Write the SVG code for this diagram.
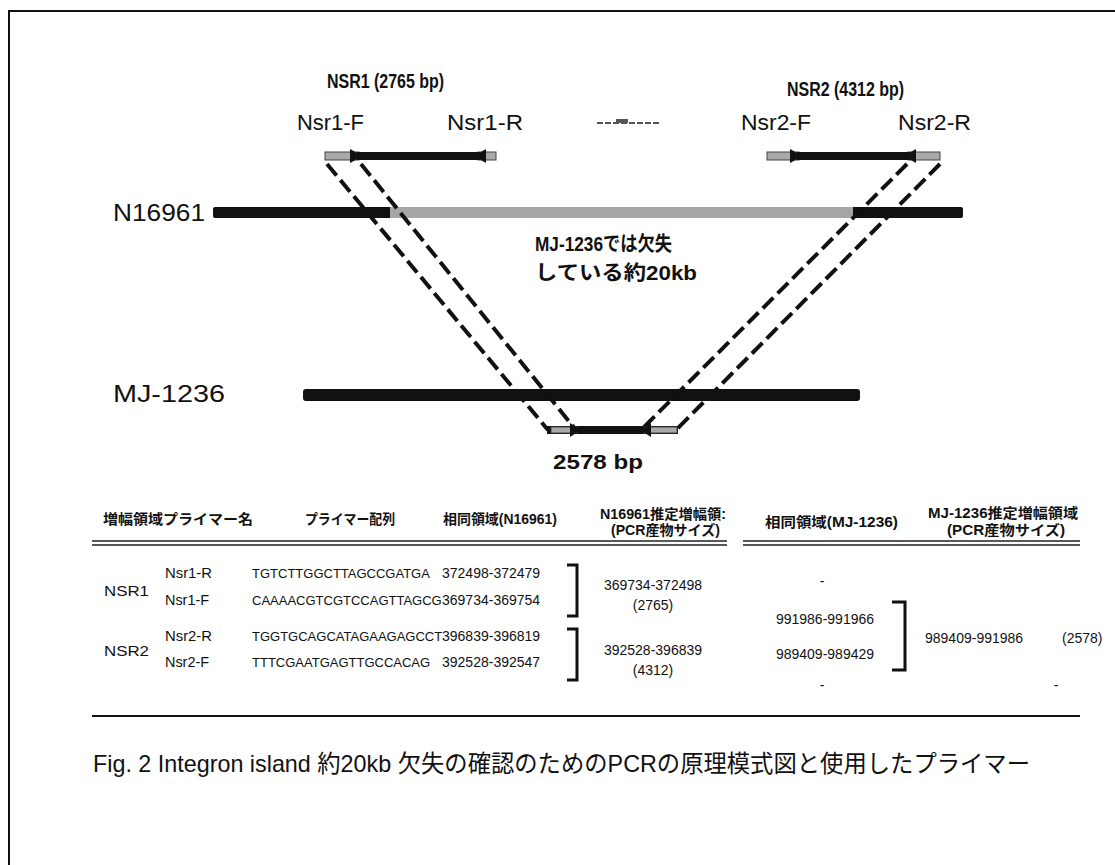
<svg xmlns="http://www.w3.org/2000/svg" width="1115" height="865" viewBox="0 0 1115 865">
<defs>
<style>
.t{font-family:"Liberation Sans","Noto Sans CJK JP",sans-serif;fill:#111}
.b{font-weight:bold}
.cell{font-size:14px}
.seq{font-size:13px}
.hd{font-size:14px;font-weight:bold}
.dash{fill:none;stroke:#111;stroke-width:4;stroke-dasharray:15 6}
.gray{fill:#a9a9a9;stroke:#444;stroke-width:1}
.blk{fill:#111}
.brk{fill:none;stroke:#111;stroke-width:3}
</style>
</defs>
<rect x="0" y="0" width="1115" height="865" fill="#fff"/>
<g id="frame"><path d="M9,865 V11 H1115" fill="none" stroke="#111" stroke-width="2"/></g>

<g id="titles">
<text class="t b" x="327" y="88" font-size="20" textLength="117" lengthAdjust="spacingAndGlyphs">NSR1 (2765 bp)</text>
<text class="t b" x="787" y="96" font-size="20" textLength="117" lengthAdjust="spacingAndGlyphs">NSR2 (4312 bp)</text>
<text class="t" x="297" y="130" font-size="22" textLength="67" lengthAdjust="spacingAndGlyphs">Nsr1-F</text>
<text class="t" x="447" y="130" font-size="22" textLength="76" lengthAdjust="spacingAndGlyphs">Nsr1-R</text>
<text class="t" x="741" y="130" font-size="22" textLength="70" lengthAdjust="spacingAndGlyphs">Nsr2-F</text>
<text class="t" x="898" y="130" font-size="22" textLength="73" lengthAdjust="spacingAndGlyphs">Nsr2-R</text>
</g>
<g id="smudge"><path d="M597,123 H660" stroke="#555" stroke-width="2" stroke-dasharray="6 2"/><rect x="616" y="119" width="12" height="4" fill="#555"/></g>

<g id="primer-nsr1">
<rect class="gray" x="325" y="152" width="34" height="8"/>
<rect class="gray" x="478" y="152" width="18" height="8"/>
<rect class="blk" x="357" y="152" width="123" height="8"/>
<polygon class="blk" points="350,149 363,156 350,163"/>
<polygon class="blk" points="486,149 474,156 486,163"/>
</g>
<g id="primer-nsr2">
<rect class="gray" x="767" y="152" width="32" height="8"/>
<rect class="gray" x="908" y="152" width="32" height="8"/>
<rect class="blk" x="797" y="152" width="113" height="8"/>
<polygon class="blk" points="790,149 803,156 790,163"/>
<polygon class="blk" points="916,149 904,156 916,163"/>
</g>

<g id="n16961">
<text class="t" x="113" y="221" font-size="24" textLength="92" lengthAdjust="spacingAndGlyphs">N16961</text>
<rect x="213" y="207" width="750" height="11" rx="2" fill="#111"/>
<rect x="390" y="207" width="463" height="11" fill="#a6a6a6"/>
</g>

<g id="deletion-label">
<text class="t b" x="535" y="251" font-size="20" textLength="137" lengthAdjust="spacingAndGlyphs">MJ-1236では欠失</text>
<text class="t b" x="535" y="280" font-size="20" textLength="162" lengthAdjust="spacingAndGlyphs">している約20kb</text>
</g>

<g id="mj1236">
<text class="t" x="113" y="402" font-size="24" textLength="112" lengthAdjust="spacingAndGlyphs">MJ-1236</text>
<rect x="303" y="389" width="557" height="12" rx="3" fill="#111"/>
</g>

<g id="connectors">
<path class="dash" d="M327,164 L548,430"/>
<path class="dash" d="M361,164 L576,430"/>
<path class="dash" d="M907,164 L641,430"/>
<path class="dash" d="M940,164 L676,430"/>
</g>

<g id="product">
<rect x="547" y="426" width="131" height="8" fill="#111"/>
<rect class="gray" x="551" y="427" width="26" height="6"/>
<rect class="gray" x="644" y="427" width="33" height="6"/>
<polygon class="blk" points="570,423 581,430 570,437"/>
<polygon class="blk" points="651,423 640,430 651,437"/>
<text class="t b" x="598" y="469" font-size="20" text-anchor="middle" textLength="90" lengthAdjust="spacingAndGlyphs">2578 bp</text>
</g>

<g id="table">
<text class="t hd" x="103" y="524" textLength="150" lengthAdjust="spacingAndGlyphs">増幅領域プライマー名</text>
<text class="t hd" x="305" y="524" textLength="90" lengthAdjust="spacingAndGlyphs">プライマー配列</text>
<text class="t hd" x="443" y="524" textLength="114" lengthAdjust="spacingAndGlyphs">相同領域(N16961)</text>
<text class="t hd" x="600" y="519" textLength="126" lengthAdjust="spacingAndGlyphs">N16961推定増幅領:</text>
<text class="t hd" x="611" y="535" textLength="109" lengthAdjust="spacingAndGlyphs">(PCR産物サイズ)</text>
<text class="t hd" x="765" y="527" textLength="133" lengthAdjust="spacingAndGlyphs">相同領域(MJ-1236)</text>
<text class="t hd" x="928" y="518" textLength="150" lengthAdjust="spacingAndGlyphs">MJ-1236推定増幅領域</text>
<text class="t hd" x="947" y="535" textLength="118" lengthAdjust="spacingAndGlyphs">(PCR産物サイズ)</text>
<path d="M92,541 H727 M92,545 H727 M743,541 H1080 M743,545 H1080" stroke="#222" stroke-width="1.6"/>
<path d="M92,716 H1080" stroke="#111" stroke-width="2"/>

<text class="t cell" x="104" y="596" font-size="16" textLength="45" lengthAdjust="spacingAndGlyphs">NSR1</text>
<text class="t cell" x="165" y="578" textLength="47" lengthAdjust="spacingAndGlyphs">Nsr1-R</text>
<text class="t cell" x="165" y="605" textLength="44" lengthAdjust="spacingAndGlyphs">Nsr1-F</text>
<text class="t cell" x="104" y="656" font-size="16" textLength="45" lengthAdjust="spacingAndGlyphs">NSR2</text>
<text class="t cell" x="165" y="641" textLength="47" lengthAdjust="spacingAndGlyphs">Nsr2-R</text>
<text class="t cell" x="165" y="667" textLength="44" lengthAdjust="spacingAndGlyphs">Nsr2-F</text>

<text class="t seq" x="252" y="578">TGTCTTGGCTTAGCCGATGA</text>
<text class="t seq" x="252" y="605">CAAAACGTCGTCCAGTTAGCG</text>
<text class="t seq" x="252" y="641">TGGTGCAGCATAGAAGAGCCT</text>
<text class="t seq" x="252" y="667">TTTCGAATGAGTTGCCACAG</text>

<text class="t cell" x="442" y="578">372498-372479</text>
<text class="t cell" x="442" y="605">369734-369754</text>
<text class="t cell" x="442" y="641">396839-396819</text>
<text class="t cell" x="442" y="667">392528-392547</text>

<path class="brk" d="M567,565 H577 V616 H567"/>
<path class="brk" d="M567,629 H577 V680 H567"/>

<text class="t cell" x="653" y="590" text-anchor="middle">369734-372498</text>
<text class="t cell" x="653" y="610" text-anchor="middle">(2765)</text>
<text class="t cell" x="653" y="655" text-anchor="middle">392528-396839</text>
<text class="t cell" x="653" y="675" text-anchor="middle">(4312)</text>

<text class="t cell" x="822" y="586" text-anchor="middle">-</text>
<text class="t cell" x="825" y="624" text-anchor="middle">991986-991966</text>
<text class="t cell" x="825" y="659" text-anchor="middle">989409-989429</text>
<text class="t cell" x="822" y="690" text-anchor="middle">-</text>

<path class="brk" d="M892,602 H905 V670 H892"/>

<text class="t cell" x="925" y="643">989409-991986</text>
<clipPath id="cut"><rect x="1050" y="620" width="53" height="40"/></clipPath>
<text class="t cell" x="1062" y="643" clip-path="url(#cut)">(2578)</text>
<text class="t cell" x="1056" y="690" text-anchor="middle">-</text>
</g>

<g id="caption">
<text class="t" x="93" y="772" font-size="24" textLength="937" lengthAdjust="spacingAndGlyphs">Fig. 2  Integron island 約20kb 欠失の確認のためのPCRの原理模式図と使用したプライマー</text>
</g>
</svg>
